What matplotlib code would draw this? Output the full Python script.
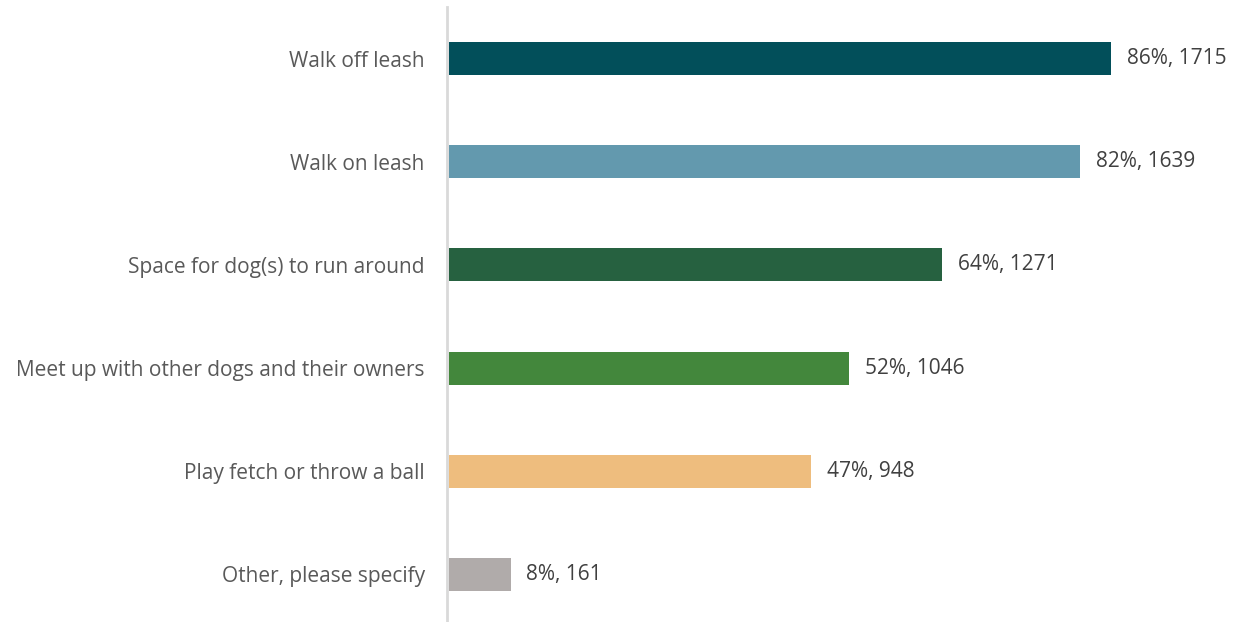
import matplotlib.pyplot as plt

categories = ["Walk off leash", "Walk on leash", "Space for dog(s) to run around",
              "Meet up with other dogs and their owners", "Play fetch or throw a ball",
              "Other, please specify"]
percents = [86, 82, 64, 52, 47, 8]
counts = [1715, 1639, 1271, 1046, 948, 161]
colors = ["#024f5a", "#6399ae", "#266140", "#43873c", "#eebd7e", "#b0abaa"]

W, H = 1239, 622
fig = plt.figure(figsize=(W / 100, H / 100), dpi=100)
plt.rcParams['font.family'] = ['Open Sans', 'DejaVu Sans']

ax = fig.add_axes([447 / W, -4 / H, 1 - 447 / W, 1 - 3 / H])
y = list(range(len(categories)))
ax.barh(y, percents, height=0.32, color=colors, left=0.25)
ax.set_ylim(len(categories) - 0.5, -0.5)
ax.set_xlim(0, (W - 447) / 7.7)

for yi, p, c in zip(y, percents, counts):
    ax.text(p + 2.3, yi, f"{p}%, {c}", va='center', ha='left',
            fontsize=15, color='#404040')

ax.set_yticks(y)
ax.set_yticklabels(categories, fontsize=15, color='#595959')
ax.tick_params(axis='y', length=0, pad=16)
ax.set_xticks([])
for s in ['top', 'right', 'bottom']:
    ax.spines[s].set_visible(False)
ax.spines['left'].set_color('#d9d9d9')
ax.spines['left'].set_linewidth(2)

fig.savefig('out.png', dpi=100)
